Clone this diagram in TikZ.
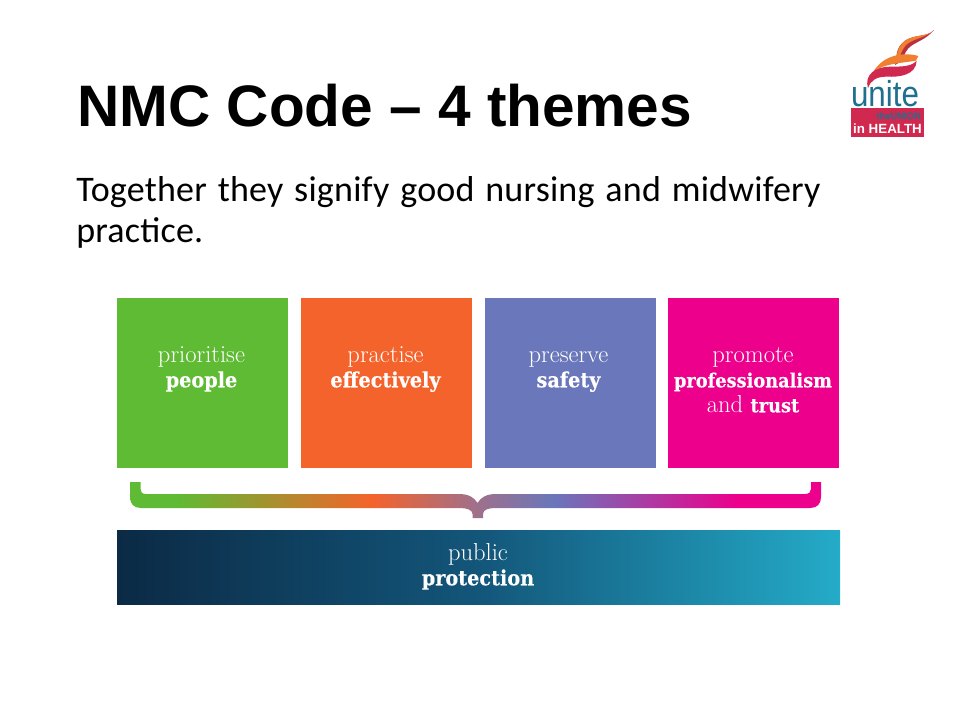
\documentclass[tikz,border=0pt]{standalone}
\usepackage{fontspec}
\usetikzlibrary{positioning}
\newfontfamily\titlefont{Liberation Sans}
\newfontfamily\logofont[FakeStretch=0.87]{Liberation Sans}
\newfontfamily\bodyfont[LetterSpace=0.6, WordSpace=1.3]{Carlito}
\newfontfamily\slabfont[FakeStretch=0.92, BoldFeatures={FakeBold=0.3}]{DejaVu Serif}
\newcommand{\slab}[1]{{\slabfont\bfseries\fontsize{15.7pt}{18.75pt}\selectfont #1}}
\newcommand{\slabsmall}[1]{{\slabfont\bfseries\fontsize{14.5pt}{18.75pt}\selectfont #1}}
\definecolor{themegreen}{HTML}{5EBB33}
\definecolor{themeorange}{HTML}{F4632B}
\definecolor{themeblue}{HTML}{6A77BA}
\definecolor{themepink}{HTML}{EC008C}
\definecolor{barleft}{HTML}{0B2A45}
\definecolor{barmid}{HTML}{13567A}
\definecolor{barright}{HTML}{24ABC8}
\definecolor{bracemid}{HTML}{A0708A}
\definecolor{logored}{HTML}{D0284F}
\definecolor{logodark}{HTML}{B8303F}
\definecolor{logoorange}{HTML}{F08030}
\definecolor{logoteal}{HTML}{1F6F8F}
\pgfdeclarehorizontalshading{braceshade}{100bp}{
    color(0bp)=(themegreen);
    color(28.3bp)=(themegreen);
    color(42.5bp)=(themeorange);
    color(50bp)=(bracemid);
    color(55.6bp)=(themeblue);
    color(69bp)=(themepink);
    color(100bp)=(themepink)}
\tikzset{
    themebox/.style={inner sep=0pt, minimum width=128.25pt, minimum height=127.5pt},
    themetext/.style={text=white, align=center, font=\fontsize{18.4pt}{18.75pt}\selectfont, anchor=north, inner sep=0pt}
}

\begin{document}
\begin{tikzpicture}[x=0.75pt, y=-0.75pt]
    \useasboundingbox (0, 0) rectangle (960, 720);

    \node[anchor=base west, inner sep=0pt, font=\titlefont\bfseries\fontsize{43.9pt}{50pt}\selectfont] (title) at (77, 127) {NMC Code – 4 themes};
    \node[anchor=base west, inner sep=0pt, font=\bodyfont\fontsize{27pt}{30pt}\selectfont] (line1) at (76, 202) {Together they signify good nursing and midwifery};
    \node[anchor=base west, inner sep=0pt, font=\bodyfont\fontsize{27pt}{30pt}\selectfont] (line2) at (76, 243) {practice.};

    \node[themebox, fill=themegreen] (people) at (202.5, 383) {};
    \node[themebox, fill=themeorange] (effective) at (386.5, 383) {};
    \node[themebox, fill=themeblue] (safety) at (570, 383) {};
    \node[themebox, fill=themepink] (trust) at (753.5, 383) {};

    \node[themetext] (peopletext) at (201.5, 344.5) {\strut prioritise\\\strut\slab{people}};
    \node[themetext] (effectivetext) at (385.5, 344.5) {\strut practise\\\strut\slab{effectively}};
    \node[themetext] (safetytext) at (568.5, 344.5) {\strut preserve\\\strut\slab{safety}};
    \node[themetext] (trusttext) at (753, 344.5) {\strut promote\\\strut\slabsmall{professionalism}\\\strut and \slabsmall{trust}};

    % brace
    \shade[shading=braceshade]
        (130, 482) -- (140.5, 482) -- (140.5, 489) .. controls (140.5, 492) and (142, 494) .. (146, 494)
        -- (459, 494) .. controls (468, 494) and (474, 497) .. (477.5, 503)
        .. controls (481, 497) and (487, 494) .. (496, 494)
        -- (805, 494) .. controls (809, 494) and (811, 492) .. (811, 489) -- (811, 482) -- (821, 482)
        -- (821, 497) .. controls (821, 504) and (817, 508) .. (810, 508)
        -- (495, 508) .. controls (488, 508) and (483, 510) .. (483, 514) -- (483, 518) -- (472.5, 518) -- (472.5, 514)
        .. controls (472.5, 510) and (467, 508) .. (460, 508)
        -- (141, 508) .. controls (134, 508) and (130, 504) .. (130, 497) -- cycle;

    \node[inner sep=0pt, minimum width=542.25pt, minimum height=55.5pt, left color=barleft, right color=barright, middle color=barmid] (bar) at (478.5, 567) {};
    \node[themetext] (bartext) at (478, 542.5) {\strut public\\\strut\slab{protection}};

    % logo
    \begin{scope}[shift={(840, 20)}, x=0.25pt, y=-0.25pt]
        \fill[logodark] (282, 30) .. controls (255, 62) and (225, 65) .. (205, 85) .. controls (190, 100) and (195, 120) .. (165, 135)
            .. controls (172, 105) and (165, 85) .. (195, 62) .. controls (225, 42) and (262, 52) .. (282, 30) -- cycle;
        \fill[logoorange] (282, 30) .. controls (255, 55) and (220, 55) .. (198, 75) .. controls (185, 88) and (185, 105) .. (168, 125)
            .. controls (172, 105) and (168, 85) .. (195, 62) .. controls (225, 42) and (262, 52) .. (282, 30) -- cycle;
        \fill[logoorange] (235, 108) .. controls (190, 95) and (130, 105) .. (100, 155)
            .. controls (135, 130) and (180, 130) .. (228, 122) -- cycle;
        \fill[logored] (230, 122) .. controls (228, 165) and (180, 172) .. (140, 170)
            .. controls (110, 170) and (92, 180) .. (84, 205)
            .. controls (72, 165) and (105, 140) .. (150, 140) .. controls (185, 140) and (215, 140) .. (230, 122) -- cycle;
    \end{scope}
    \node[anchor=base, inner sep=0pt, text=logoteal, font=\logofont\fontsize{27pt}{27pt}\selectfont] (unite) at (885, 107) {unite};
    \node[anchor=north west, inner sep=0pt, fill=logored, minimum width=54.5pt, minimum height=21.75pt] (logobox) at (851, 108) {};
    \node[anchor=base east, inner sep=0pt, text=logoteal, font=\titlefont\bfseries\fontsize{7pt}{7pt}\selectfont] (logounion) at (921, 120) {theUNION};
    \node[anchor=base, inner sep=0pt, text=white, font=\titlefont\bfseries\fontsize{10pt}{11pt}\selectfont] (logohealth) at (887.5, 134) {in HEALTH};
\end{tikzpicture}
\end{document}
